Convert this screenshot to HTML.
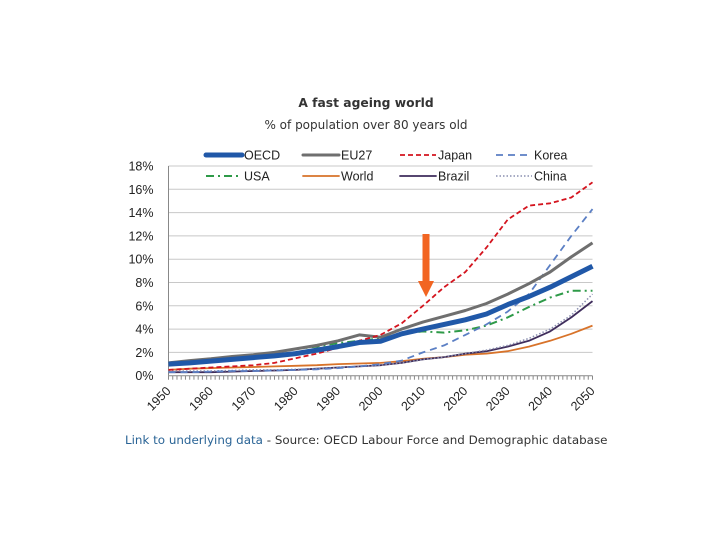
<!DOCTYPE html>
<html><head><meta charset="utf-8"><style>
body{margin:0;background:#fff;width:720px;height:540px;overflow:hidden;font-family:"Liberation Sans",Arial,sans-serif}
</style></head><body>
<svg width="720" height="540" viewBox="0 0 720 540" style="position:absolute;left:0;top:0">
<text x="366" y="107" text-anchor="middle" font-size="12.3" font-weight="bold" fill="#333" font-family="DejaVu Sans, sans-serif">A fast ageing world</text>
<text x="366" y="129" text-anchor="middle" font-size="12" fill="#333" font-family="DejaVu Sans, sans-serif">% of population over 80 years old</text>
<g id="grid"></g><g id="axes"></g><g id="series"></g><g id="legend"></g>
<g>
<rect x="422.5" y="234" width="7" height="48" fill="#f26522"/>
<polygon points="418,281 434,281 426,297" fill="#f26522"/>
</g>
<text x="125" y="444" font-size="11.9" fill="#333" font-family="DejaVu Sans, sans-serif"><tspan fill="#2a6496">Link to underlying data</tspan> - Source: OECD Labour Force and Demographic database</text>
</svg>
<script>
const years=[1950,1955,1960,1965,1970,1975,1980,1985,1990,1995,2000,2005,2010,2015,2020,2025,2030,2035,2040,2045,2050];
const oecd=[1.0,1.1,1.25,1.4,1.55,1.7,1.9,2.2,2.5,2.85,2.95,3.6,4.0,4.4,4.8,5.3,6.1,6.8,7.6,8.5,9.4];
const eu27=[1.1,1.3,1.45,1.65,1.8,2.0,2.3,2.6,3.0,3.5,3.3,4.0,4.6,5.1,5.6,6.2,7.0,7.9,8.9,10.2,11.4];
const japan=[0.5,0.6,0.7,0.8,0.9,1.1,1.5,1.9,2.4,3.0,3.5,4.5,6.0,7.6,8.9,11.0,13.4,14.6,14.8,15.3,16.6];
const korea=[0.3,0.3,0.35,0.4,0.4,0.45,0.5,0.55,0.65,0.8,1.0,1.3,2.0,2.6,3.5,4.4,5.5,7.0,9.5,12.0,14.3];
const usa=[1.1,1.3,1.45,1.6,1.8,2.0,2.3,2.5,2.8,3.0,3.2,3.6,3.8,3.7,3.9,4.3,5.0,5.9,6.7,7.3,7.3];
const world=[0.5,0.6,0.65,0.7,0.75,0.8,0.85,0.9,1.0,1.05,1.1,1.25,1.45,1.6,1.8,1.9,2.1,2.5,3.0,3.6,4.3];
const brazil=[0.3,0.3,0.3,0.35,0.4,0.45,0.5,0.6,0.7,0.8,0.9,1.1,1.4,1.6,1.9,2.1,2.5,3.0,3.8,5.0,6.4];
const china=[0.4,0.4,0.4,0.45,0.5,0.5,0.55,0.6,0.7,0.8,0.9,1.1,1.4,1.6,1.9,2.2,2.6,3.2,4.0,5.2,7.0];
const yTicks=[0,2,4,6,8,10,12,14,16,18];
const xTicks=[1950,1960,1970,1980,1990,2000,2010,2020,2030,2040,2050];
const NS='http://www.w3.org/2000/svg';
const X0=168.5,X1=592.5,Y0=375.7,Y1=166;
const xs=y=>X0+(y-1950)/100*(X1-X0);
const ys=v=>Y0-v/18*(Y0-Y1);
function mk(t,a,p){const e=document.createElementNS(NS,t);for(const k in a)e.setAttribute(k,a[k]);p.appendChild(e);return e;}
const grid=document.getElementById('grid'),axes=document.getElementById('axes');
yTicks.forEach(v=>{
 if(v>0){const l=mk('line',{x1:X0,x2:X1,y1:ys(v),y2:ys(v),stroke:'#c8c8c8','stroke-width':1},grid);
 
 }
 const t=mk('text',{x:X0-15,y:ys(v)+4.5,'text-anchor':'end','font-size':12.5,fill:'#222'},axes);
 t.textContent=v+'%';
 
 
});
const ya=mk('line',{x1:X0,x2:X0,y1:Y1,y2:Y0,stroke:'#888'},axes);


const xa=mk('line',{x1:X0,x2:X1,y1:Y0,y2:Y0,stroke:'#888'},axes);


for(let y=1950;y<=2050;y++){const l=mk('line',{x1:xs(y),x2:xs(y),y1:Y0,y2:Y0+4,stroke:'#888'},axes);
 
 }
xTicks.forEach(y=>{const x=xs(y)+3,yy=Y0+16;
 const t=mk('text',{x:x,y:yy,'text-anchor':'end','font-size':12.5,fill:'#222',transform:`rotate(-45 ${x} ${yy})`},axes);
 t.textContent=y;
 
 });
const S=[
 ['usa',usa,'#2e9a48',2,'8 4 2 4'],
 ['world',world,'#d8732a',1.8,''],
 ['brazil',brazil,'#3f2d5c',1.8,''],
 ['china',china,'#8a8fb0',1.5,'1.5 2'],
 ['korea',korea,'#5b7fc4',1.8,'7 5'],
 ['eu27',eu27,'#6f6f6f',3,''],
 ['japan',japan,'#d4141e',1.8,'5 3'],
 ['oecd',oecd,'#2058a8',5,'']];
const sg=document.getElementById('series');
S.forEach(s=>{const d=s[1].map((v,i)=>(i?'L':'M')+xs(years[i]).toFixed(1)+','+ys(v).toFixed(1)).join('');
 const p=mk('path',{d:d,fill:'none',stroke:s[2],'stroke-width':s[3],'stroke-dasharray':s[4],'stroke-linejoin':'round'},sg);
 
 });
const L=[['OECD','#2058a8',5,'',206,155],['EU27','#6f6f6f',3,'',303,155],['Japan','#d4141e',1.8,'5 3',400,155],['Korea','#5b7fc4',1.8,'7 5',496,155],
 ['USA','#2e9a48',2,'8 4 2 4',206,176],['World','#d8732a',1.8,'',303,176],['Brazil','#3f2d5c',1.8,'',400,176],['China','#8a8fb0',1.5,'1.5 2',496,176]];
const lg=document.getElementById('legend');
L.forEach(e=>{const g=mk('g',{},lg);
 
 
 mk('line',{x1:e[4],x2:e[4]+36,y1:e[5],y2:e[5],stroke:e[1],'stroke-width':e[2],'stroke-dasharray':e[3],'stroke-linecap':e[3]?'butt':'round'},g);
 const t=mk('text',{x:e[4]+38,y:e[5]+4.5,'font-size':12.5,fill:'#222'},g);t.textContent=e[0];});
</script>
</body></html>
